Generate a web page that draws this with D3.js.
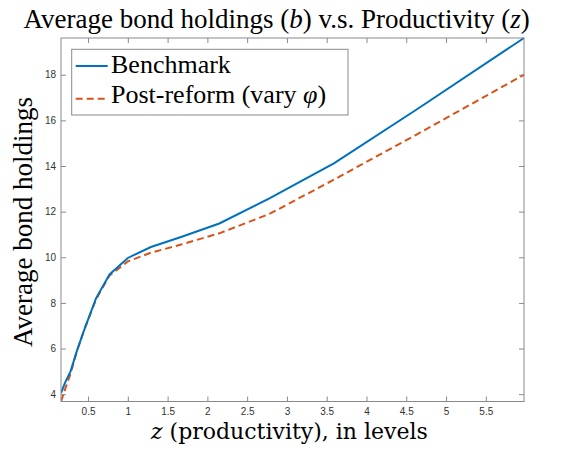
<!DOCTYPE html>
<html><head><meta charset="utf-8"><script src="https://cdn.jsdelivr.net/npm/d3@7"></script></head>
<body style="margin:0">
<svg id="s" width="572" height="450"></svg>
<script>
// ---- data ----
const zGrid = [0.16, 0.21, 0.28, 0.36, 0.46, 0.60, 0.77, 1.00, 1.29, 1.66, 2.15, 2.78, 3.59, 4.64, 5.98];
const benchmark = [4.05, 4.50, 5.00, 5.90, 6.90, 8.20, 9.25, 9.97, 10.45, 10.88, 11.48, 12.58, 14.12, 16.50, 19.61];
const postReform = [3.68, 4.20, 4.90, 5.90, 6.90, 8.15, 9.20, 9.82, 10.20, 10.55, 11.05, 11.90, 13.40, 15.40, 18.00];
const xTicks = [0.5, 1, 1.5, 2, 2.5, 3, 3.5, 4, 4.5, 5, 5.5];
const yTicks = [4, 6, 8, 10, 12, 14, 16, 18];
const seriesNames = ["Benchmark", "Post-reform (vary "];
const xDomain = [0.16, 5.98];
const yDomain = [3.68, 19.61];

// ---- layout ----
const L = 61, R = 524, T = 38, B = 401.5;
const axisColor = "#8a8a8a";
const labelColor = "#333";
const blue = "#0072BD", orange = "#D95319";

const svg = d3.select("#s");
const x = d3.scaleLinear().domain(xDomain).range([L, R]);
const y = d3.scaleLinear().domain(yDomain).range([B, T]);

function styleAxis(g) {
  g.attr("font-family", null).attr("font-size", null);
  g.selectAll("path.domain").remove();
  g.selectAll(".tick line").attr("stroke", axisColor);
  g.selectAll(".tick text").attr("fill", labelColor)
    .style("font-family", '"Liberation Sans"').style("font-size", "10px");
}
svg.append("g").attr("transform", `translate(0,${B})`)
  .call(d3.axisBottom(x).tickValues(xTicks).tickSize(-5).tickPadding(6.5).tickFormat(d3.format("")))
  .call(styleAxis);
svg.append("g").attr("transform", `translate(0,${T})`)
  .call(d3.axisTop(x).tickValues(xTicks).tickSize(-5).tickFormat(""))
  .call(styleAxis);
svg.append("g").attr("transform", `translate(${L},0)`)
  .call(d3.axisLeft(y).tickValues(yTicks).tickSize(-5).tickPadding(5).tickFormat(d3.format("")))
  .call(styleAxis);
svg.append("g").attr("transform", `translate(${R},0)`)
  .call(d3.axisRight(y).tickValues(yTicks).tickSize(-5).tickFormat(""))
  .call(styleAxis);

svg.append("clipPath").attr("id", "plotclip").append("rect")
  .attr("x", L).attr("y", T - 2).attr("width", R - L + 2).attr("height", B - T + 3);
const line = d3.line().x(d => x(d[0])).y(d => y(d[1]));
svg.append("path").datum(zGrid.map((z, i) => [z, postReform[i]]))
  .attr("d", line).attr("fill", "none").attr("stroke", orange)
  .attr("stroke-width", 2).attr("stroke-dasharray", "7,4")
  .attr("clip-path", "url(#plotclip)");
svg.append("path").datum(zGrid.map((z, i) => [z, benchmark[i]]))
  .attr("d", line).attr("fill", "none").attr("stroke", blue)
  .attr("stroke-width", 2)
  .attr("clip-path", "url(#plotclip)");

svg.append("rect").attr("x", L).attr("y", T).attr("width", R - L).attr("height", B - T)
  .attr("fill", "none").attr("stroke", axisColor).attr("stroke-width", 1);

svg.append("rect").attr("x", 71.7).attr("y", 49.3).attr("width", 276.3).attr("height", 65.7)
  .attr("fill", "#fff").attr("stroke", axisColor).attr("stroke-width", 1);
svg.append("line").attr("x1", 75.7).attr("x2", 107.7).attr("y1", 66).attr("y2", 66)
  .attr("stroke", blue).attr("stroke-width", 2);
svg.append("line").attr("x1", 75.7).attr("x2", 107.7).attr("y1", 98.7).attr("y2", 98.7)
  .attr("stroke", orange).attr("stroke-width", 2).attr("stroke-dasharray", "7,4");

// legend text: font-family as attribute
svg.append("text").attr("x", 111).attr("y", 72.7)
  .attr("font-family", "Liberation Serif").attr("font-size", 26)
  .text(seriesNames[0]);
const lg2 = svg.append("text").attr("x", 111).attr("y", 102.7)
  .attr("font-family", "Liberation Serif").attr("font-size", 26);
lg2.append("tspan").text(seriesNames[1]);
lg2.append("tspan").attr("font-style", "italic").text("φ");
lg2.append("tspan").text(")");

// title: style, like the font test page
const ttl = svg.append("text").attr("x", 23.6).attr("y", 28)
  .style("font-family", '"Liberation Serif"').style("font-size", "27px");
ttl.append("tspan").text("Average bond holdings (");
ttl.append("tspan").style("font-style", "italic").text("b");
ttl.append("tspan").text(") v.s. Productivity (");
ttl.append("tspan").style("font-style", "italic").text("z");
ttl.append("tspan").text(")");

// x label: DejaVu Serif
const xl = svg.append("text").attr("x", 151).attr("y", 438.5)
  .style("font-family", '"DejaVu Serif"').style("font-size", "22px");
xl.append("tspan").style("font-style", "italic").text("z");
xl.append("tspan").text(" (productivity), in levels");

// y label: Tinos
svg.append("text").attr("transform", "translate(32,347) rotate(-90)")
  .style("font-family", 'Tinos').style("font-size", "27px")
  .text("Average bond holdings");
</script></body></html>
